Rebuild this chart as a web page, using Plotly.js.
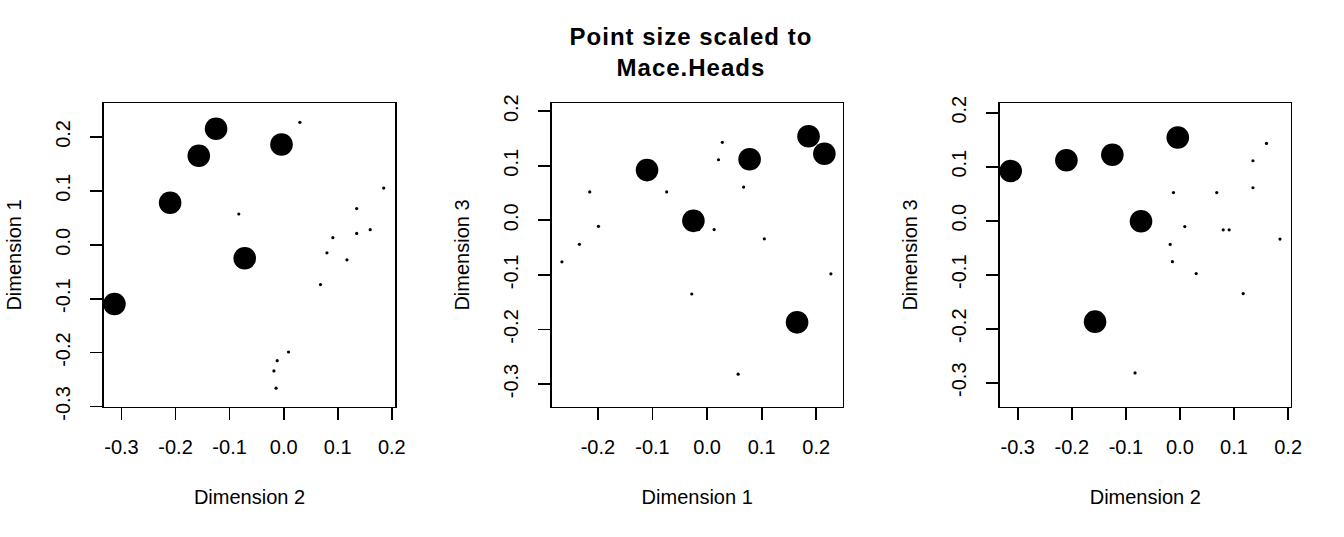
<!DOCTYPE html>
<html>
<head>
<meta charset="utf-8">
<script src="https://cdn.plot.ly/plotly-3.0.1.min.js"></script>
<style>
html,body{margin:0;padding:0;background:#fff;}
.gtitle{letter-spacing:1px;}
</style>
</head>
<body>
<div id="chart" style="width:1344px;height:537px;"></div>
<script>
// MDS coordinates of the 20 sites
const dim1 = [-0.110, 0.078, 0.165, 0.215, 0.186, -0.025, 0.227, 0.057, 0.105, 0.067, 0.013, 0.021, 0.028, -0.015, -0.028, -0.074, -0.199, -0.215, -0.234, -0.266];
const dim2 = [-0.313, -0.210, -0.157, -0.125, -0.004, -0.072, 0.030, -0.083, 0.185, 0.135, 0.091, 0.135, 0.160, 0.080, 0.117, 0.068, 0.009, -0.012, -0.018, -0.014];
const dim3 = [0.092, 0.112, -0.187, 0.122, 0.154, -0.001, -0.098, -0.282, -0.034, 0.061, -0.017, 0.111, 0.143, -0.017, -0.135, 0.052, -0.011, 0.052, -0.044, -0.076];
// Mace.Heads presence per site
const maceHeads = [1, 1, 1, 1, 1, 1, 0, 0, 0, 0, 0, 0, 0, 0, 0, 0, 0, 0, 0, 0];

const tickVals5 = [-0.3, -0.2, -0.1, 0.0, 0.1, 0.2];
const tickText5 = ['-0.3', '-0.2', '-0.1', '0.0', '0.1', '0.2'];
const tickVals4 = [-0.2, -0.1, 0.0, 0.1, 0.2];
const tickText4 = ['-0.2', '-0.1', '0.0', '0.1', '0.2'];

const chartTitle = 'Point size scaled to<br>Mace.Heads';

const sizes = maceHeads.map(m => 3.2 + 19.4 * m);
const FONT = 'Liberation Sans, Arial, Helvetica, sans-serif';

function pts(x, y, xa, ya) {
  return {
    type: 'scatter', mode: 'markers', x: x, y: y, xaxis: xa, yaxis: ya,
    marker: {color: '#000', size: sizes, opacity: 1, line: {width: 0}},
    cliponaxis: false, hoverinfo: 'skip', showlegend: false
  };
}

function axis(domain, range, tv, tt, title, isY) {
  const a = {
    domain: domain, range: range, showgrid: false, zeroline: false,
    showline: true, mirror: true, linecolor: '#000', linewidth: 1.8,
    ticks: 'outside', ticklen: 12, tickwidth: 1.8, tickcolor: '#000',
    tickvals: tv, ticktext: tt,
    tickfont: {family: FONT, size: 20, color: '#000'},
    ticklabelstandoff: isY ? 12 : 10,
    title: {text: title, font: {family: FONT, size: 20, color: '#000'}, standoff: isY ? 25 : 32},
    automargin: false, fixedrange: true
  };
  if (isY) a.tickangle = -90;
  return a;
}

const yDom = [0.2427, 0.8076];

const data = [
  pts(dim2, dim1, 'x', 'y'),
  pts(dim1, dim3, 'x2', 'y2'),
  pts(dim2, dim3, 'x3', 'y3')
];

const layout = {
  width: 1344, height: 537,
  margin: {l: 0, r: 0, t: 0, b: 0},
  paper_bgcolor: '#fff', plot_bgcolor: '#fff',
  font: {family: FONT, color: '#000'},
  title: {
    text: chartTitle,
    font: {family: FONT, size: 24, weight: 'bold', color: '#000'},
    x: 0.5141, xanchor: 'center', xref: 'paper',
    y: 0.917, yanchor: 'middle', yref: 'container'
  },
  xaxis: axis([0.07738, 0.29390], [-0.3323, 0.2059], tickVals5, tickText5, 'Dimension 2', false),
  yaxis: axis(yDom, [-0.3004, 0.2623], tickVals5, tickText5, 'Dimension 1', true),
  xaxis2: axis([0.4105, 0.6270], [-0.2847, 0.2486], tickVals4, tickText4, 'Dimension 1', false),
  yaxis2: axis(yDom, [-0.3415, 0.2144], tickVals5, tickText5, 'Dimension 3', true),
  xaxis3: axis([0.7440, 0.9603], [-0.3329, 0.2047], tickVals5, tickText5, 'Dimension 2', false),
  yaxis3: axis(yDom, [-0.3444, 0.2173], tickVals5, tickText5, 'Dimension 3', true)
};
layout.yaxis.anchor = 'x';
layout.xaxis.anchor = 'y';
layout.xaxis2.anchor = 'y2';
layout.yaxis2.anchor = 'x2';
layout.xaxis3.anchor = 'y3';
layout.yaxis3.anchor = 'x3';

Plotly.newPlot('chart', data, layout, {displayModeBar: false, staticPlot: true});
</script>
</body>
</html>
